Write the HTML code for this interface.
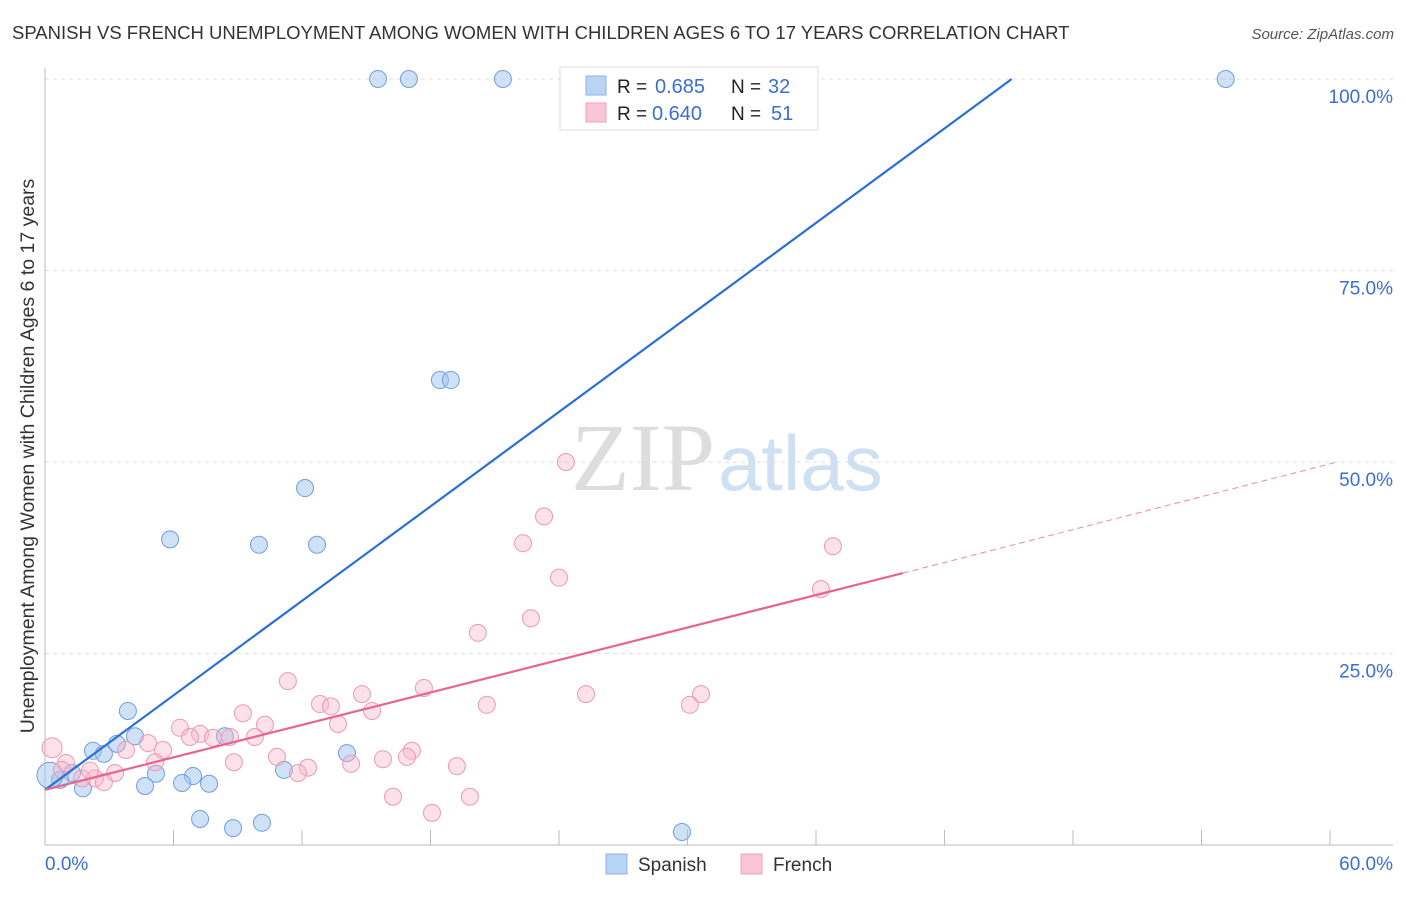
<!DOCTYPE html>
<html><head><meta charset="utf-8"><style>
body{margin:0;background:#fff;font-family:"Liberation Sans",sans-serif}
svg text{font-family:"Liberation Sans",sans-serif}
</style></head><body>
<svg id="c" width="1406" height="892">
<text x="12" y="39" font-size="18.5" fill="#333">SPANISH VS FRENCH UNEMPLOYMENT AMONG WOMEN WITH CHILDREN AGES 6 TO 17 YEARS CORRELATION CHART</text>
<text x="1394" y="39" font-size="15" fill="#555" font-style="italic" text-anchor="end">Source: ZipAtlas.com</text>
<text x="715" y="490" font-size="96" fill="#ddd" text-anchor="end" style="font-family:'Liberation Serif',serif">ZIP</text>
<text x="718" y="490" font-size="78" fill="#cfe0f3">atlas</text>
<text transform="translate(34,456) rotate(-90)" font-size="19.5" fill="#333" text-anchor="middle">Unemployment Among Women with Children Ages 6 to 17 years</text>
<g id="grid"></g><g id="marks"></g>
<g>
<rect x="560" y="67" width="258" height="63" fill="#fff" stroke="#ddd"/>
<rect x="586" y="76" width="20" height="19" fill="#b9d3f5" stroke="#8ab3e8"/>
<rect x="586" y="103" width="20" height="19" fill="#f9c6d5" stroke="#eea0b8"/>
<text x="617" y="93" font-size="19" fill="#222">R =</text>
<text x="655" y="93" font-size="20" fill="#3a6fd0">0.685</text>
<text x="731" y="93" font-size="19" fill="#222">N =</text>
<text x="768" y="93" font-size="20" fill="#3a6fd0">32</text>
<text x="617" y="120" font-size="19" fill="#222">R =</text>
<text x="652" y="120" font-size="20" fill="#3a6fd0">0.640</text>
<text x="731" y="120" font-size="19" fill="#222">N =</text>
<text x="771" y="120" font-size="20" fill="#3a6fd0">51</text>
</g>
<g>
<rect x="606" y="854" width="21" height="20" fill="#b9d3f5" stroke="#8ab3e8"/>
<text x="638" y="871" font-size="19" fill="#333">Spanish</text>
<rect x="741" y="854" width="21" height="20" fill="#f9c6d5" stroke="#eea0b8"/>
<text x="773" y="871" font-size="19" fill="#333">French</text>
</g>
</svg>
<script>
const spanishX=[15.55,16.99,21.38,33.75,55.13,18.44,18.95,12.14,5.84,9.99,12.70,3.87,2.24,2.75,3.36,4.20,8.40,14.10,5.18,6.91,6.40,7.66,4.67,11.16,1.77,1.26,0.70,0.23,7.24,8.78,10.13,29.74];
const spanishY=[100,100,100,100,100,60.7,60.7,46.6,39.9,39.2,39.2,17.5,12.3,11.9,13.2,14.2,14.2,12.0,9.3,9.0,8.1,8.0,7.7,9.8,7.4,9.4,8.5,9.1,3.4,2.2,2.9,1.7];
const frenchX=[24.32,23.30,22.32,24.00,22.69,20.21,36.79,36.23,11.34,17.69,14.80,25.26,30.63,20.63,30.11,12.84,13.35,15.27,9.24,6.30,10.27,13.68,7.24,7.84,6.77,8.64,4.81,9.80,3.78,5.51,5.14,10.83,17.13,16.90,15.78,14.29,8.82,12.28,11.81,19.23,3.27,2.33,2.75,1.73,0.98,0.33,16.25,19.84,18.07,0.79,2.10];
const frenchY=[50.0,42.9,39.4,34.9,29.6,27.7,39.0,33.4,21.4,20.5,19.7,19.7,19.7,18.3,18.3,18.4,18.1,17.5,17.2,15.3,15.7,15.8,14.5,14.0,14.1,14.1,13.3,14.1,12.4,12.4,10.8,11.5,12.3,11.5,11.2,10.6,10.8,10.1,9.4,10.3,9.4,8.7,8.2,8.7,10.7,12.7,6.3,6.3,4.2,9.8,9.7];
const spanishLine=[0,7.2,45.14,100];
const frenchLine=[0,7.2,40.06,35.5];
const frenchDash=[40.06,35.5,60.2,49.9];
const yTicks=[25,50,75,100];
const yTickLabels=["25.0%","50.0%","75.0%","100.0%"];
const xTicks=[0,6,12,18,24,30,36,42,48,54,60];
const xs=v=>45+v*21.417, ys=v=>845-v*7.66;
const NS="http://www.w3.org/2000/svg";
function mk(t,a,p){const e=document.createElementNS(NS,t);for(const k in a)e.setAttribute(k,a[k]);p.appendChild(e);return e;}
const g=document.getElementById('grid'),m=document.getElementById('marks');
yTicks.forEach((v,i)=>{
 const l=mk('line',{x1:45,x2:1393,y1:ys(v),y2:ys(v),stroke:'#ddd','stroke-dasharray':'4,4'},g);
 
 
 const t=mk('text',{x:1393,y:ys(v)+24,'font-size':19,fill:'#3a6fd0','text-anchor':'end'},g);t.textContent=yTickLabels[i];
 
 
});
let ax=mk('line',{x1:45,x2:45,y1:68,y2:845,stroke:'#bbb'},g);


ax=mk('line',{x1:45,x2:1393,y1:845,y2:845,stroke:'#bbb'},g);


xTicks.forEach(v=>{const l=mk('line',{x1:xs(v),x2:xs(v),y1:830,y2:845,stroke:'#bbb'},g);
 
 });
let t=mk('text',{x:45,y:870,'font-size':19,fill:'#3a6fd0'},g);t.textContent='0.0%';


t=mk('text',{x:1393,y:870,'font-size':19,fill:'#3a6fd0','text-anchor':'end'},g);t.textContent='60.0%';


spanishX.forEach((x,i)=>{const c=mk('circle',{cx:xs(x),cy:ys(spanishY[i]),r:i==27?13:8.5,fill:'rgba(160,195,240,0.5)',stroke:'#6e9fe0','stroke-width':1},m);
 
 });
frenchX.forEach((x,i)=>{const c=mk('circle',{cx:xs(x),cy:ys(frenchY[i]),r:i==45?10:8.5,fill:'rgba(248,180,200,0.4)',stroke:'#ec9ab4','stroke-width':1},m);
 
 });
let L=mk('line',{x1:xs(spanishLine[0]),y1:ys(spanishLine[1]),x2:xs(spanishLine[2]),y2:ys(spanishLine[3]),stroke:'#2a6fd6','stroke-width':2.2},m);


L=mk('line',{x1:xs(frenchLine[0]),y1:ys(frenchLine[1]),x2:xs(frenchLine[2]),y2:ys(frenchLine[3]),stroke:'#e8648e','stroke-width':2.2},m);


L=mk('line',{x1:xs(frenchDash[0]),y1:ys(frenchDash[1]),x2:xs(frenchDash[2]),y2:ys(frenchDash[3]),stroke:'#eb8aa8','stroke-width':1,'stroke-dasharray':'6,4'},m);


</script>
</body></html>
